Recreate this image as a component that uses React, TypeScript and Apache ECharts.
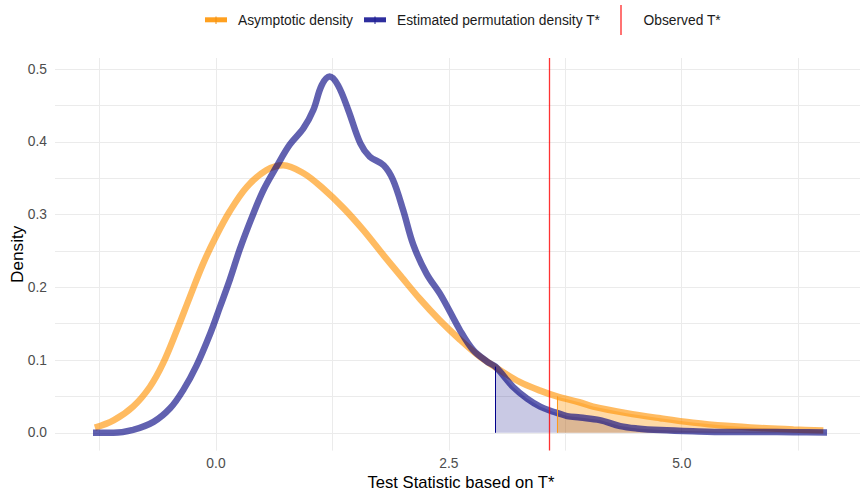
import React, { useEffect, useRef } from "react";
import * as echarts from "echarts";

// Asymptotic null density of the test statistic
const asymX = [-1.3, -1.1, -0.89, -0.71, -0.57, -0.42, -0.28, -0.14, 0.0, 0.15, 0.33, 0.54, 0.72, 0.94, 1.15, 1.37, 1.58, 1.8, 2.0, 2.19, 2.4, 2.62, 2.83, 3.05, 3.26, 3.48, 3.66, 3.9, 4.05, 4.41, 4.77, 5.12, 5.48, 5.84, 6.2, 6.52];
const asymY = [0.007, 0.017, 0.036, 0.063, 0.095, 0.141, 0.187, 0.232, 0.27, 0.305, 0.338, 0.361, 0.368, 0.357, 0.336, 0.309, 0.279, 0.244, 0.213, 0.184, 0.155, 0.128, 0.105, 0.086, 0.07, 0.058, 0.05, 0.042, 0.036, 0.027, 0.02, 0.014, 0.0096, 0.0066, 0.0046, 0.003];

// Kernel estimate of the permutation density of T*
const permX = [-1.32, -1.1, -0.89, -0.67, -0.49, -0.35, -0.21, -0.06, 0.04, 0.15, 0.26, 0.4, 0.51, 0.65, 0.79, 0.94, 1.045, 1.135, 1.22, 1.31, 1.42, 1.55, 1.65, 1.8, 1.9, 2.01, 2.12, 2.26, 2.42, 2.62, 2.76, 2.91, 3.0, 3.05, 3.19, 3.34, 3.48, 3.62, 3.66, 3.77, 3.91, 4.12, 4.34, 4.52, 4.77, 5.12, 5.48, 5.84, 6.2, 6.56];
const permY = [0.0, 0.0, 0.004, 0.015, 0.034, 0.059, 0.092, 0.137, 0.172, 0.211, 0.254, 0.301, 0.334, 0.366, 0.396, 0.419, 0.444, 0.478, 0.49, 0.478, 0.444, 0.398, 0.38, 0.368, 0.348, 0.306, 0.258, 0.219, 0.188, 0.141, 0.114, 0.098, 0.091, 0.084, 0.063, 0.047, 0.036, 0.029, 0.0275, 0.023, 0.021, 0.0175, 0.0092, 0.006, 0.0037, 0.002, 0.001, 0.001, 0.0008, 0.0005];

// Critical values and the observed statistic
const permCritical = 3.0;
const asymCritical = 3.66;
const observedT = 3.575;

// Axis ticks
const xLabelTicks = [0, 2.5, 5];
const xGridTicks = [-1.25, 0, 1.25, 2.5, 3.75, 5, 6.25];
const yLabelTicks = [0, 0.1, 0.2, 0.3, 0.4, 0.5];
const yGridTicks = [0, 0.05, 0.1, 0.15, 0.2, 0.25, 0.3, 0.35, 0.4, 0.45, 0.5];

const legendLabels = ["Asymptotic density", "Estimated permutation density T*", "Observed T*"];

const FONT = "'Liberation Sans', Arial, sans-serif";

const pairs = (xs: number[], ys: number[]) => xs.map((x, i) => [x, ys[i]]);
// Tail region above a cut-off, closed down to the baseline at the cut-off
const tail = (xs: number[], ys: number[], from: number) => [
  [from, 0],
  ...xs.map((x, i) => [x, ys[i]]).filter((p) => p[0] >= from),
];
const valueAt = (xs: number[], ys: number[], x: number) => ys[xs.indexOf(x)];

export default function App() {
  const ref = useRef<HTMLDivElement>(null);

  useEffect(() => {
    if (!ref.current) return;
    const chart = echarts.init(ref.current, null, { renderer: "svg" });

    const gridColor = "#ebebeb";
    const option: any = {
      animation: false,
      backgroundColor: "#ffffff",
      grid: { left: 55, top: 58, width: 812, height: 392.6, outerBoundsMode: "none", containLabel: false },
      xAxis: {
        type: "value",
        min: -1.728,
        max: 6.989,
        name: "Test Statistic based on T*",
        nameLocation: "middle",
        nameGap: 24,
        nameMoveOverlap: false,
        nameTextStyle: { color: "#000", fontSize: 16.6, lineHeight: 15, fontFamily: FONT },
        axisLine: { show: false },
        axisTick: { show: false, customValues: xGridTicks },
        axisLabel: {
          customValues: xLabelTicks,
          formatter: (v: number) => v.toFixed(1),
          color: "#4d4d4d",
          fontSize: 13.8,
          fontFamily: FONT,
          margin: 6,
        },
        splitLine: { show: true, lineStyle: { color: gridColor, width: 1 } },
      },
      yAxis: {
        type: "value",
        min: -0.0245,
        max: 0.5155,
        name: "Density",
        nameLocation: "middle",
        nameRotate: 90,
        nameGap: 29.5,
        nameMoveOverlap: false,
        nameTextStyle: { color: "#000", fontSize: 17.2, fontFamily: FONT },
        axisLine: { show: false },
        axisTick: { show: false, customValues: yGridTicks },
        axisLabel: {
          customValues: yLabelTicks,
          formatter: (v: number) => v.toFixed(1),
          color: "#4d4d4d",
          fontSize: 13.8,
          fontFamily: FONT,
          margin: 8,
        },
        splitLine: { show: true, lineStyle: { color: gridColor, width: 1 } },
      },
      series: [
        {
          name: "permTail",
          type: "line",
          data: tail(permX, permY, permCritical),
          showSymbol: false,
          smooth: false,
          lineStyle: { width: 0 },
          areaStyle: { color: "rgba(0,0,128,0.3)", origin: 0 },
          silent: true,
          markLine: {
            silent: true,
            symbol: "none",
            label: { show: false },
            lineStyle: { color: "#00008b", width: 1, type: "solid" },
            data: [[{ coord: [permCritical, 0] }, { coord: [permCritical, valueAt(permX, permY, permCritical)] }]],
          },
        },
        {
          name: "asymTail",
          type: "line",
          data: tail(asymX, asymY, asymCritical),
          showSymbol: false,
          smooth: false,
          lineStyle: { width: 0 },
          areaStyle: { color: "rgba(255,150,0,0.5)", origin: 0 },
          silent: true,
          markLine: {
            silent: true,
            symbol: "none",
            label: { show: false },
            lineStyle: { color: "#ff9a1a", width: 1, type: "solid" },
            data: [[{ coord: [asymCritical, 0] }, { coord: [asymCritical, valueAt(asymX, asymY, asymCritical)] }]],
          },
        },
        {
          name: legendLabels[0],
          type: "line",
          data: pairs(asymX, asymY),
          showSymbol: false,
          smooth: 0.35,
          lineStyle: { color: "rgba(255,145,0,0.62)", width: 6.5, cap: "butt" },
          silent: true,
        },
        {
          name: legendLabels[1],
          type: "line",
          data: pairs(permX, permY),
          showSymbol: false,
          smooth: 0.35,
          lineStyle: { color: "rgba(0,0,128,0.62)", width: 6.5, cap: "butt" },
          silent: true,
          markLine: {
            silent: true,
            symbol: "none",
            label: { show: false },
            lineStyle: { color: "rgba(255,0,0,0.8)", width: 1.3, type: "solid" },
            data: [{ xAxis: observedT }],
          },
        },
      ],
      graphic: [
        // legend keys
        { type: "rect", shape: { x: 205, y: 17.3, width: 22, height: 5 }, style: { fill: "#ffa01f" } },
        { type: "line", shape: { x1: 216, y1: 16.5, x2: 216, y2: 24 }, style: { stroke: "#f29010", lineWidth: 1 } },
        { type: "text", style: { x: 238, y: 20, text: legendLabels[0], fill: "#1a1a1a", fontSize: 13.8, fontFamily: FONT, verticalAlign: "middle", align: "left" } },
        { type: "rect", shape: { x: 364, y: 17.3, width: 22, height: 5 }, style: { fill: "#2e2e9e" } },
        { type: "line", shape: { x1: 375, y1: 16.5, x2: 375, y2: 24 }, style: { stroke: "#1f1f90", lineWidth: 1 } },
        { type: "text", style: { x: 397, y: 20, text: legendLabels[1], fill: "#1a1a1a", fontSize: 13.8, fontFamily: FONT, verticalAlign: "middle", align: "left" } },
        { type: "line", shape: { x1: 621, y1: 5, x2: 621, y2: 35 }, style: { stroke: "rgba(255,0,0,0.85)", lineWidth: 1.3 } },
        { type: "text", style: { x: 643.5, y: 20, text: legendLabels[2], fill: "#1a1a1a", fontSize: 13.8, fontFamily: FONT, verticalAlign: "middle", align: "left" } },
      ],
    };

    chart.setOption(option);
    return () => chart.dispose();
  }, []);

  return (
    <div
      ref={ref}
      style={{ position: "fixed", left: 0, top: 0, width: 860, height: 492, background: "#fff" }}
    />
  );
}
